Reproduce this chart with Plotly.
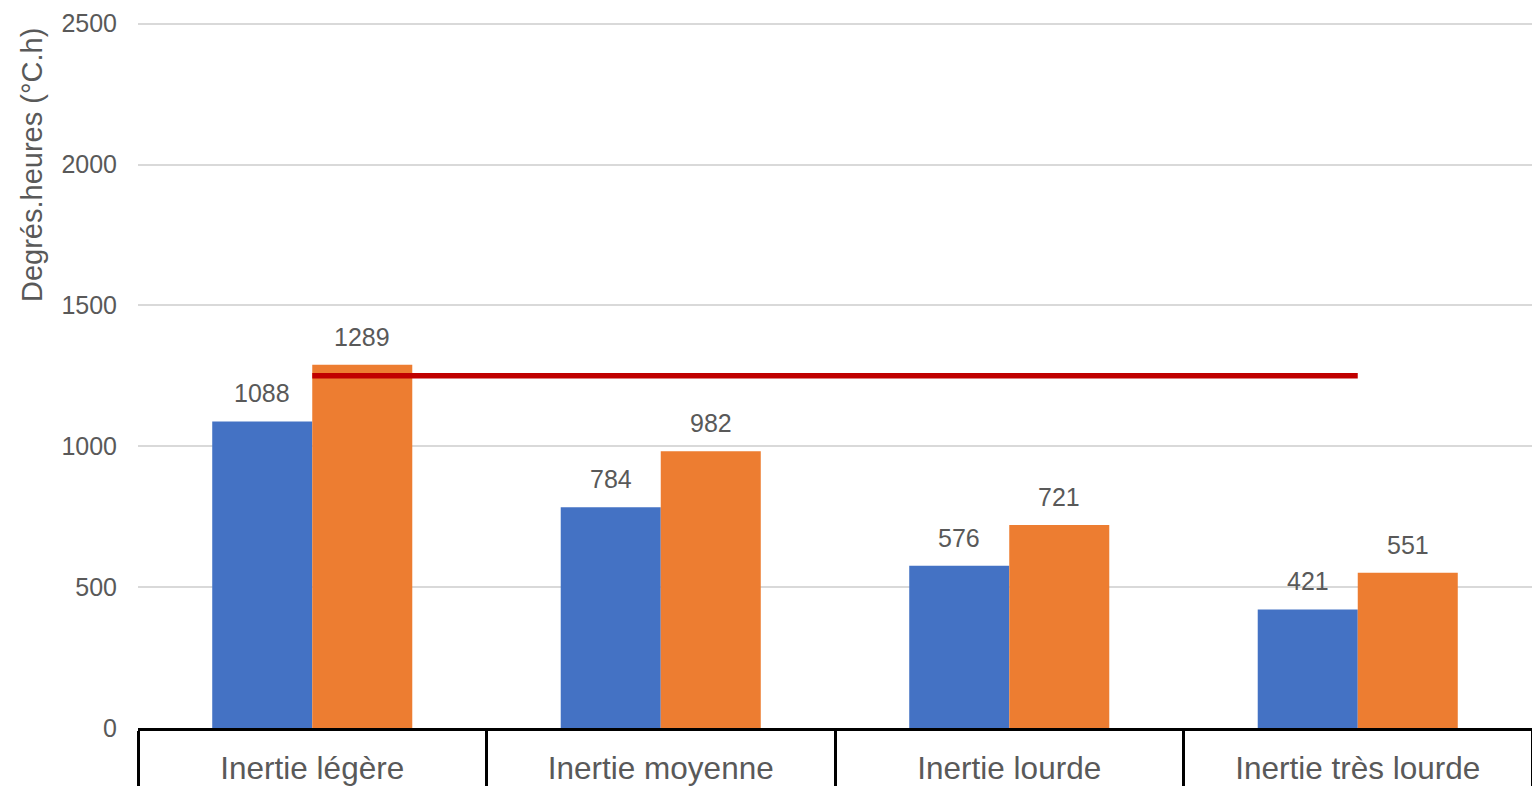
import plotly.graph_objects as go

# Catégories d'inertie et degrés-heures d'inconfort
categories = ["Inertie légère", "Inertie moyenne", "Inertie lourde", "Inertie très lourde"]
serie_bleue = [1088, 784, 576, 421]
serie_orange = [1289, 982, 721, 551]
seuil = [1250, 1250, 1250, 1250]
y_ticks = [0, 500, 1000, 1500, 2000, 2500]

BLUE = "#4472C4"
ORANGE = "#ED7D31"
RED = "#C00000"
GREY = "#595959"
FONT = "Liberation Sans, Arial, sans-serif"

W, H = 1532, 786
M_L, M_R, M_T, M_B = 138, 0, 22, 58
BARGAP = 0.426

fig = go.Figure()
fig.add_trace(go.Bar(x=categories, y=serie_bleue, marker=dict(color=BLUE, line=dict(width=0)),
                     name="bleu"))
fig.add_trace(go.Bar(x=categories, y=serie_orange, marker=dict(color=ORANGE, line=dict(width=0)),
                     name="orange"))
fig.add_trace(go.Scatter(x=categories, y=seuil, mode="lines",
                         line=dict(color=RED, width=5.5), name="seuil"))

# value labels above each bar
cat_px = (W - M_L - M_R) / len(categories)
bar_px = cat_px * (1 - BARGAP) / 2
for i, cat in enumerate(categories):
    for vals, sign in ((serie_bleue, -1), (serie_orange, 1)):
        fig.add_annotation(x=cat, y=vals[i], xref="x", yref="y", text=str(vals[i]),
                           showarrow=False, yanchor="bottom", xshift=sign * bar_px / 2,
                           yshift=12, font=dict(family=FONT, size=25, color=GREY))

# y-axis title, set against the top of the axis
fig.add_annotation(text="Degrés.heures (°C.h)", textangle=-90, xref="paper", yref="paper",
                   x=0, y=1, xanchor="right", yanchor="top", xshift=-88, yshift=-4,
                   showarrow=False, font=dict(family=FONT, size=29, color=GREY))

fig.update_layout(
    width=W, height=H,
    margin=dict(l=M_L, r=M_R, t=M_T, b=M_B, autoexpand=False),
    paper_bgcolor="white", plot_bgcolor="white",
    barmode="group", bargap=BARGAP, bargroupgap=0,
    showlegend=False,
    font=dict(family=FONT, color=GREY),
)
fig.update_xaxes(
    type="category", showgrid=False,
    showline=True, linecolor="black", linewidth=2.5,
    ticks="outside", tickson="boundaries", ticklen=58, tickwidth=2.5, tickcolor="black",
    ticklabelstandoff=10,
    tickfont=dict(family=FONT, size=31.5, color=GREY),
)
fig.update_yaxes(
    range=[0, 2506], tickvals=y_ticks, showgrid=True, gridcolor="#D9D9D9", gridwidth=2,
    zeroline=False, showline=False, ticks="", ticklabelstandoff=20,
    tickfont=dict(family=FONT, size=25, color=GREY),
)

fig.write_html("out.html")
